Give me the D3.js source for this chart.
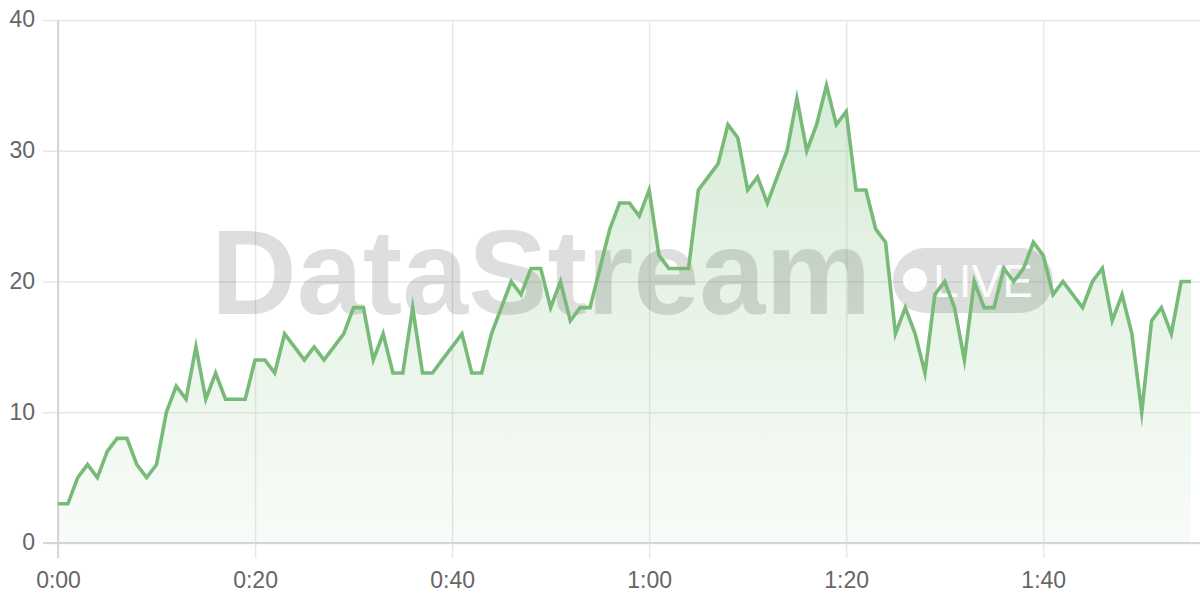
<!DOCTYPE html>
<html><head><meta charset="utf-8">
<script src="https://cdn.jsdelivr.net/npm/d3@7"></script>
<style>
body{margin:0;background:#fff}
svg{display:block}
text{font-family:"Liberation Sans",Arial,Helvetica,sans-serif}
</style>
</head><body>
<svg id="c" width="1200" height="600"></svg>
<script>
// values sampled once per second, 0:00 .. 1:55
const values = [3,3,5,6,5,7,8,8,6,5, 6,10,12,11,15,11,13,11,11,11,
  14,14,13,16,15,14,15,14,15,16, 18,18,14,16,13,13,18,13,13,14,
  15,16,13,13,16,18,20,19,21,21, 18,20,17,18,18,21,24,26,26,25,
  27,22,21,21,21,27,28,29,32,31, 27,28,26,28,30,34,30,32,35,32,
  33,27,27,24,23,16,18,16,13,19, 20,18,14,20,18,18,21,20,21,23,
  22,19,20,19,18,20,21,17,19,16, 10,17,18,16,20,20];
const xTickValues = [0,20,40,60,80,100];
const xTickLabels = ["0:00","0:20","0:40","1:00","1:20","1:40"];
const yTickValues = [0,10,20,30,40];
const yTickLabels = ["0","10","20","30","40"];

(function(){
const svg = d3.select("#c");
const pLeft = 58, pRight = 1191, pTop = 20, pBottom = 543;
const x = d3.scaleLinear().domain([0, values.length - 1]).range([pLeft, pRight]);
const y = d3.scaleLinear().domain([0, 40]).range([pBottom, pTop]);

const defs = svg.append("defs");
const grad = defs.append("linearGradient").attr("id","g")
  .attr("gradientUnits","userSpaceOnUse").attr("x1",0).attr("x2",0)
  .attr("y1",pTop).attr("y2",pBottom);
grad.append("stop").attr("offset","0%").attr("stop-color","rgb(120,190,120)").attr("stop-opacity",0.33);
grad.append("stop").attr("offset","100%").attr("stop-color","rgb(120,190,120)").attr("stop-opacity",0.05);

// grid + y axis
const yAxis = d3.axisLeft(y).tickValues(yTickValues)
  .tickFormat((d,i)=>yTickLabels[i]).tickSizeOuter(0);
const gy = svg.append("g").attr("transform",`translate(${pLeft},0)`).call(yAxis);
gy.select(".domain").remove();
gy.selectAll(".tick line").attr("x1",-15).attr("x2",1200-pLeft).attr("stroke","#e8e8e8").attr("stroke-width",1.5);
gy.selectAll(".tick text").attr("x",-23).attr("dy","0.3em").attr("font-size",23).attr("fill","#666").attr("text-anchor","end");

// grid + x axis
const xAxis = d3.axisBottom(x).tickValues(xTickValues)
  .tickFormat((d,i)=>xTickLabels[i]).tickSizeOuter(0);
const gx = svg.append("g").attr("transform",`translate(0,${pBottom})`).call(xAxis);
gx.select(".domain").remove();
gx.selectAll(".tick line").attr("y1",-(pBottom-pTop)).attr("y2",15).attr("stroke","#e8e8e8").attr("stroke-width",1.5);
gx.selectAll(".tick text").attr("y",37).attr("dy","0.35em").attr("font-size",23).attr("fill","#666");

// axis lines
svg.append("line").attr("x1",pLeft).attr("x2",pLeft).attr("y1",pTop).attr("y2",pBottom+15)
  .attr("stroke","#d6d6d6").attr("stroke-width",2);
svg.append("line").attr("x1",pLeft-15).attr("x2",1200).attr("y1",pBottom).attr("y2",pBottom)
  .attr("stroke","#d6d6d6").attr("stroke-width",2);

// area
const area = d3.area().x((d,i)=>x(i)).y0(y(0)).y1(d=>y(d));
svg.append("path").datum(values).attr("d",area).attr("fill","url(#g)");

// watermark
const wm = svg.append("g").attr("fill","rgba(0,0,0,0.13)");
wm.append("text").attr("x",211).attr("y",314).attr("font-size",120).attr("font-weight","bold")
  .attr("textLength",660).attr("lengthAdjust","spacingAndGlyphs").text("DataStream");
wm.append("rect").attr("x",893).attr("y",248).attr("width",160).attr("height",65).attr("rx",32.5);
svg.append("circle").attr("cx",915).attr("cy",280).attr("r",12).attr("fill","rgba(255,255,255,0.95)");
svg.append("text").attr("x",933).attr("y",297).attr("font-size",47).attr("fill","rgba(255,255,255,0.95)")
  .attr("textLength",100).attr("lengthAdjust","spacingAndGlyphs").text("LIVE");

// line
const line = d3.line().x((d,i)=>x(i)).y(d=>y(d));
svg.append("path").datum(values).attr("d",line).attr("fill","none")
  .attr("stroke","#78bb78").attr("stroke-width",3.6)
  .attr("stroke-linejoin","miter").attr("stroke-miterlimit",10);
})();
</script>
</body></html>
